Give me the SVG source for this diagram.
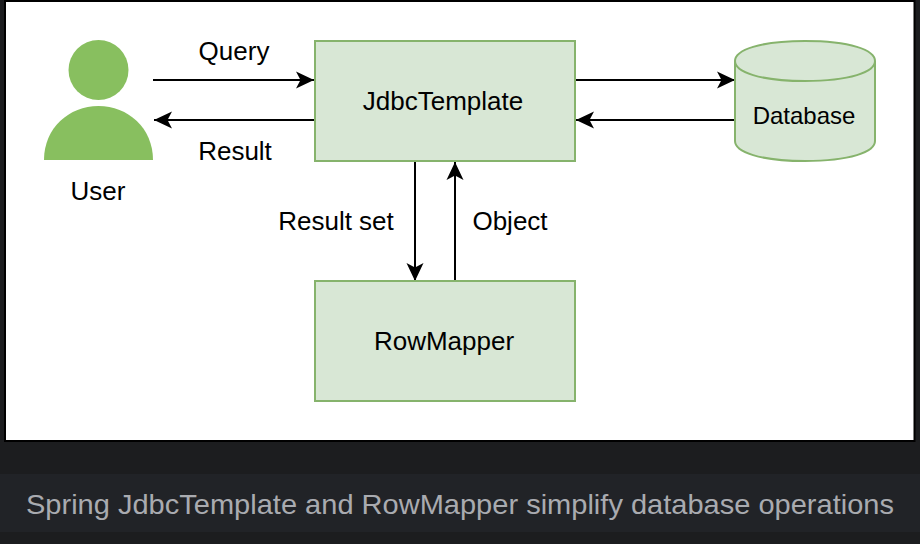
<svg xmlns="http://www.w3.org/2000/svg" width="920" height="544" viewBox="0 0 920 544">
<style>
.box{fill:#d8e7d5;stroke:#86b36c;stroke-width:2}
.t{font-family:"Liberation Sans",Arial,sans-serif;font-size:26px;fill:#000;text-anchor:middle}
.c{fill:none;stroke:#000;stroke-width:2}
.u{fill:#88bf5f;stroke:none}
</style>
<defs>
<marker id="a" markerUnits="userSpaceOnUse" markerWidth="20" markerHeight="20" refX="18" refY="9" orient="auto" viewBox="0 0 20 18">
<path d="M0 0.5L18 9L0 17.5L4.500 9Z" fill="#000"/>
</marker>
</defs>
<rect width="920" height="544" fill="#1c1d1f"/>
<rect x="5" y="1" width="909.500" height="440" fill="#fff" stroke="#000" stroke-width="2"/>
<rect x="0" y="474" width="920" height="58" fill="#212327"/>
<g id="connectors">
<path class="c" d="M153 80H314" marker-end="url(#a)"/>
<path class="c" d="M314 120H154" marker-end="url(#a)"/>
<path class="c" d="M575 80H735" marker-end="url(#a)"/>
<path class="c" d="M735 120H576" marker-end="url(#a)"/>
<path class="c" d="M415 161V281" marker-end="url(#a)"/>
<path class="c" d="M455 281V162" marker-end="url(#a)"/>
</g>
<g id="user">
<circle class="u" cx="98.500" cy="70" r="30"/>
<path class="u" d="M44 160C44 128 69 106 98.500 106C128 106 153 128 153 160Z"/>
<text class="t" x="98" y="200">User</text>
</g>
<g id="jdbc-template">
<rect class="box" x="315" y="41" width="260" height="120"/>
<text class="t" x="443" y="110">JdbcTemplate</text>
</g>
<g id="row-mapper">
<rect class="box" x="315" y="281" width="260" height="120"/>
<text class="t" x="444" y="350">RowMapper</text>
</g>
<g id="database">
<path class="box" d="M735 61C735 50 760 41 805 41C850 41 875 50 875 61V141C875 152 850 161 805 161C760 161 735 152 735 141Z"/>
<path class="box" style="fill:none" d="M735 61C735 72 760 81 805 81C850 81 875 72 875 61"/>
<text class="t" x="804" y="124" style="font-size:24px">Database</text>
</g>
<g id="labels">
<text class="t" x="234" y="60">Query</text>
<text class="t" x="235" y="160">Result</text>
<text class="t" x="336" y="230">Result set</text>
<text class="t" x="510" y="230">Object</text>
</g>
<text x="460" y="514" text-anchor="middle" textLength="868" lengthAdjust="spacingAndGlyphs" style="font-family:'Liberation Sans',sans-serif;font-size:28px;fill:#a9abb0">Spring JdbcTemplate and RowMapper simplify database operations</text>
</svg>
